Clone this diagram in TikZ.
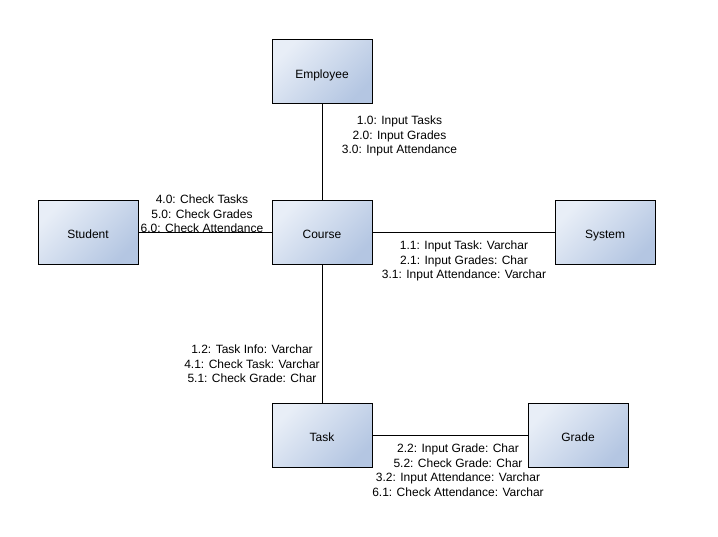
\documentclass[tikz,border=0pt]{standalone}
\usepackage{fontspec}
\setmainfont{Liberation Sans}
\begin{document}
\begin{tikzpicture}[x=1pt,y=-1pt,
  obj/.style={draw=black, line width=1pt, minimum width=100pt, minimum height=64pt, inner sep=0pt,
    left color={rgb,255:red,232;green,238;blue,247}, right color={rgb,255:red,180;green,198;blue,226}, shading angle=45,
    text height=13pt, text depth=0pt,
    font=\fontsize{12}{15}\selectfont},
  lbl/.style={align=center, inner sep=0pt, font=\fontsize{12}{14.5}\selectfont},
  conn/.style={draw=black, line width=0.8pt}]
\useasboundingbox (0,0) rectangle (718,537);
\node[obj] (emp) at (322,72) {Employee};
\node[obj] (crs) at (322,232.5) {Course};
\node[obj] (stu) at (88,232.5) {Student};
\node[obj] (sys) at (605,232.5) {System};
\node[obj] (tsk) at (322,435.5) {Task};
\node[obj] (grd) at (578,435.5) {Grade};
\draw[conn] (emp.south) -- (crs.north);
\draw[conn] (stu.east) -- (crs.west);
\draw[conn] (crs.east) -- (sys.west);
\draw[conn] (crs.south) -- (tsk.north);
\draw[conn] (tsk.east) -- (grd.west);
\node[lbl] (l1) at (399.5,136) {1.0: Input Tasks\\2.0: Input Grades\\3.0: Input Attendance};
\node[lbl] (l2) at (202,214) {4.0: Check Tasks\\5.0: Check Grades\\6.0: Check Attendance};
\node[lbl] (l3) at (464,261) {1.1: Input Task: Varchar\\2.1: Input Grades: Char\\3.1: Input Attendance: Varchar};
\node[lbl] (l4) at (252,364) {1.2: Task Info: Varchar\\4.1: Check Task: Varchar\\5.1: Check Grade: Char};
\node[lbl] (l5) at (458,470) {2.2: Input Grade: Char\\5.2: Check Grade: Char\\3.2: Input Attendance: Varchar\\6.1: Check Attendance: Varchar};
\end{tikzpicture}
\end{document}
